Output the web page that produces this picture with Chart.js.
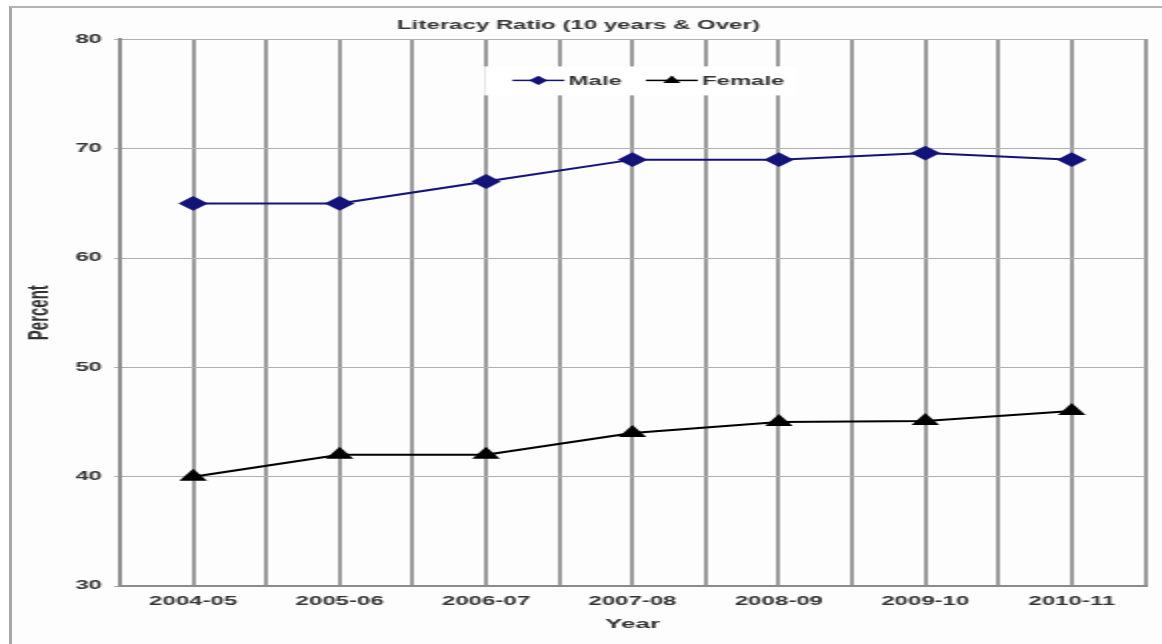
<!DOCTYPE html>
<html>
<head>
<meta charset="utf-8">
<title>Literacy Ratio (10 years &amp; Over)</title>
<script src="https://cdn.jsdelivr.net/npm/chart.js@4.4.1/dist/chart.umd.min.js"></script>
<style>
  html, body { margin: 0; padding: 0; background: #fff; overflow: hidden; }
  #frame {
    position: absolute; left: 9px; top: 6px; width: 1200px; height: 700px;
    border-left: 3px solid #a8a8a8; border-top: 2px solid #b4b4b4; background: #fdfdfd;
  }
  /* the original picture is stretched sideways, so the canvas is too */
  #chart { position: absolute; left: 0; top: 0; transform: scaleX(2); transform-origin: 0 0; }
</style>
</head>
<body>
<div id="frame"></div>
<canvas id="chart" width="581" height="644"></canvas>
<script>
const years = ["2004-05", "2005-06", "2006-07", "2007-08", "2008-09", "2009-10", "2010-11"];
const maleValues = [65, 65, 67, 69, 69, 69.6, 69];
const femaleValues = [40, 42, 42, 44, 45, 45.1, 46];
const yMin = 30;
const yMax = 80;
const yStep = 10;

const FONT = "Arial, 'Liberation Sans', sans-serif";
const textColor = "#333";

// legend drawn inside the plot, near the top
const insideLegend = {
  id: "insideLegend",
  afterDraw(chart) {
    const ctx = chart.ctx;
    const area = chart.chartArea;
    ctx.save();
    ctx.font = "bold 12px " + FONT;
    const lineLen = 26, gap = 2, itemGap = 12;
    const items = chart.data.datasets.map((ds) => ({
      ds,
      w: lineLen + gap + ctx.measureText(ds.label).width,
    }));
    const total = items.reduce((s, i) => s + i.w, 0) + itemGap * (items.length - 1);
    let x = (area.left + area.right) / 2 + 8 - total / 2;
    const y = area.top + 41;

    ctx.fillStyle = "#fff";
    ctx.fillRect(x - 14, y - 14, total + 20, 29);

    items.forEach(({ ds, w }) => {
      ctx.strokeStyle = ds.borderColor;
      ctx.lineWidth = 1.5;
      ctx.beginPath();
      ctx.moveTo(x, y);
      ctx.lineTo(x + lineLen, y);
      ctx.stroke();
      ctx.fillStyle = ds.pointBackgroundColor;
      ctx.strokeStyle = ds.pointBorderColor;
      Chart.helpers.drawPoint(ctx, { pointStyle: ds.pointStyle, radius: 3.5, borderWidth: 1, rotation: 0 }, x + lineLen / 2, y);
      ctx.fillStyle = textColor;
      ctx.textBaseline = "middle";
      ctx.textAlign = "left";
      ctx.fillText(ds.label, x + lineLen + gap, y + 1);
      x += w + itemGap;
    });
    ctx.restore();
  },
};

new Chart(document.getElementById("chart"), {
  type: "line",
  data: {
    labels: years,
    datasets: [
      {
        label: "Male",
        data: maleValues,
        borderColor: "#13137a",
        backgroundColor: "#13137a",
        pointBackgroundColor: "#13137a",
        pointBorderColor: "#13137a",
        pointStyle: "rectRot",
        pointRadius: 6,
        borderWidth: 2,
        tension: 0,
      },
      {
        label: "Female",
        data: femaleValues,
        borderColor: "#000",
        backgroundColor: "#000",
        pointBackgroundColor: "#000",
        pointBorderColor: "#000",
        pointStyle: "triangle",
        pointRadius: 6,
        borderWidth: 2,
        tension: 0,
      },
    ],
  },
  options: {
    responsive: false,
    animation: false,
    layout: { padding: { left: 6, right: 8.5, top: 0, bottom: 12 } },
    plugins: {
      legend: { display: false },
      tooltip: { enabled: false },
      title: {
        display: true,
        text: "Literacy Ratio (10 years & Over)",
        color: textColor,
        font: { family: FONT, size: 12, weight: "bold" },
        padding: { top: 18, bottom: 7 },
      },
    },
    scales: {
      x: {
        offset: true,
        grid: { offset: false, color: "#9a9a9a", lineWidth: 2, drawTicks: false },
        border: { display: true, color: "#8c8c8c", width: 2 },
        ticks: {
          color: textColor,
          padding: 8,
          maxRotation: 0,
          font: { family: FONT, size: 12, weight: "bold" },
        },
        title: {
          display: true,
          text: "Year",
          color: textColor,
          font: { family: FONT, size: 13, weight: "bold" },
          padding: { top: 0, bottom: 0 },
        },
      },
      x2: {
        type: "category",
        position: "top",
        offset: true,
        grid: { offset: true, color: "#9a9a9a", lineWidth: 2, drawTicks: false },
        border: { display: false },
        ticks: { display: false },
        afterFit: (s) => { s.height = 0; },
      },
      y: {
        min: yMin,
        max: yMax,
        ticks: {
          stepSize: yStep,
          color: textColor,
          padding: 6,
          font: { family: FONT, size: 12, weight: "bold" },
        },
        grid: { color: "#b0b0b0", lineWidth: 1, tickLength: 3 },
        border: { display: true, color: "#8c8c8c", width: 2 },
        title: {
          display: true,
          text: "Percent",
          color: textColor,
          font: { family: FONT, size: 15, weight: "bold" },
          padding: { top: 5, bottom: 0 },
        },
        afterFit: (s) => { s.width = 54; },
      },
    },
  },
  plugins: [insideLegend],
});
</script>
</body>
</html>
